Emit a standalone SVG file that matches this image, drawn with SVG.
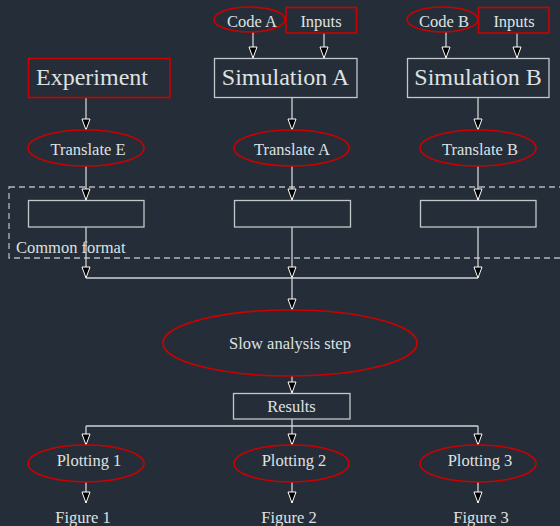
<svg xmlns="http://www.w3.org/2000/svg" width="560" height="526" viewBox="0 0 560 526">
<style>
text{font-family:'Liberation Serif','DejaVu Serif',serif;fill:#dfe1e3;text-anchor:middle;font-size:16.5px}
.big{font-size:24px}
.red{fill:none;stroke:#cc0000;stroke-width:1.6}
.box{fill:none;stroke:#c4c7ca;stroke-width:1.3}
.ln{fill:none;stroke:#d0d2d4;stroke-width:1.3}
.arr{fill:none;stroke:#d0d2d4;stroke-width:1.3;marker-end:url(#ah)}
</style>
<defs>
<marker id="ah" markerUnits="userSpaceOnUse" viewBox="-12 -5 13 10" refX="0" refY="0" markerWidth="13" markerHeight="10" orient="auto">
<path d="M-11,-4 L0,0 L-11,4 Z" fill="#000" stroke="#fff" stroke-width="1"/>
</marker>
</defs>
<rect width="560" height="526" fill="#252e38"/>
<g id="common-format">
<rect x="9" y="187" width="560" height="71" fill="none" stroke="#b4b8bc" stroke-width="1.3" stroke-dasharray="6,4"/>
<text x="16" y="253" style="text-anchor:start" font-family="Liberation Serif">Common format</text>
</g>
<g id="connectors">
<path class="arr" d="M253,32V58"/>
<path class="arr" d="M324,33V58"/>
<path class="arr" d="M446,32V58"/>
<path class="arr" d="M517,33V58"/>
<path class="arr" d="M86,98V130"/>
<path class="arr" d="M292,98V130"/>
<path class="arr" d="M478,98V130"/>
<path class="arr" d="M86,166V200"/>
<path class="arr" d="M292,166V200"/>
<path class="arr" d="M478,166V200"/>
<path class="arr" d="M86,227V278"/>
<path class="arr" d="M292,227V278"/>
<path class="arr" d="M478,227V278"/>
<path class="ln" d="M86,278H478"/>
<path class="arr" d="M292,278V310"/>
<path class="arr" d="M292,376V393"/>
<path class="ln" d="M292,419V426M86,426H478"/>
<path class="arr" d="M86,426V445"/>
<path class="arr" d="M292,426V445"/>
<path class="arr" d="M478,426V445"/>
<path class="arr" d="M86,482V503"/>
<path class="arr" d="M292,482V503"/>
<path class="arr" d="M478,482V503"/>
</g>
<g id="code-a"><ellipse class="red" cx="249.5" cy="19.5" rx="35.5" ry="12.5"/><text x="252" y="27">Code A</text></g>
<g id="inputs-a"><rect class="red" x="286" y="7.5" width="70.5" height="25.5"/><text x="321" y="27">Inputs</text></g>
<g id="code-b"><ellipse class="red" cx="442.5" cy="19.5" rx="35.5" ry="12.5"/><text x="444" y="27">Code B</text></g>
<g id="inputs-b"><rect class="red" x="478.5" y="7.5" width="70.5" height="25.5"/><text x="514" y="27">Inputs</text></g>
<g id="experiment"><rect class="red" x="28.5" y="58.5" width="141.5" height="39"/><text class="big" x="92" y="85">Experiment</text></g>
<g id="simulation-a"><rect class="box" x="214.5" y="58.5" width="142.5" height="39"/><text class="big" x="285.5" y="85">Simulation A</text></g>
<g id="simulation-b"><rect class="box" x="407.5" y="58.5" width="141.5" height="39"/><text class="big" x="478" y="85">Simulation B</text></g>
<g id="translate-e"><ellipse class="red" cx="86" cy="148" rx="58" ry="18"/><text x="88" y="155">Translate E</text></g>
<g id="translate-a"><ellipse class="red" cx="291.5" cy="148" rx="57.5" ry="18"/><text x="292" y="155">Translate A</text></g>
<g id="translate-b"><ellipse class="red" cx="478" cy="148" rx="58" ry="18"/><text x="480" y="155">Translate B</text></g>
<g id="format-e"><rect class="box" x="28.5" y="200.5" width="115.5" height="26.5"/></g>
<g id="format-a"><rect class="box" x="234.5" y="200.5" width="116" height="26.5"/></g>
<g id="format-b"><rect class="box" x="420.5" y="200.5" width="115.5" height="26.5"/></g>
<g id="slow-analysis"><ellipse class="red" cx="290" cy="343" rx="127" ry="33"/><text x="290" y="349">Slow analysis step</text></g>
<g id="results"><rect class="box" x="233.5" y="393.5" width="116.5" height="25.5"/><text x="291.5" y="412">Results</text></g>
<g id="plotting-1"><ellipse class="red" cx="86" cy="463.5" rx="58" ry="18.5"/><text x="89" y="466">Plotting 1</text></g>
<g id="plotting-2"><ellipse class="red" cx="291.5" cy="463.5" rx="57.5" ry="18.5"/><text x="294" y="466">Plotting 2</text></g>
<g id="plotting-3"><ellipse class="red" cx="478" cy="463.5" rx="58" ry="18.5"/><text x="480" y="466">Plotting 3</text></g>
<g id="figure-1"><text x="83" y="523">Figure 1</text></g>
<g id="figure-2"><text x="289" y="523">Figure 2</text></g>
<g id="figure-3"><text x="481" y="523">Figure 3</text></g>
</svg>
